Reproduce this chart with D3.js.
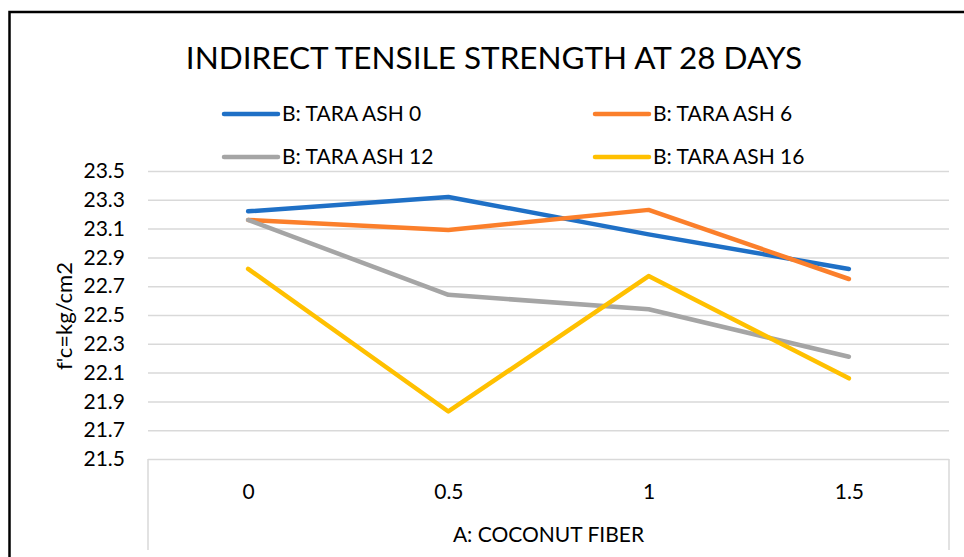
<!DOCTYPE html>
<html>
<head>
<meta charset="utf-8">
<script src="https://cdn.jsdelivr.net/npm/d3@7"></script>
<style>
    body { margin: 0; background: #fff; }
    text { font-family: Lato, "Open Sans", sans-serif; fill: #000; }
</style>
</head>
<body>
<div id="plot"></div>
<script>
let categories = ["0", "0.5", "1", "1.5"];
let seriesNames = ["B: TARA ASH 0", "B: TARA ASH 6", "B: TARA ASH 12", "B: TARA ASH 16"];
let ash0 = [23.22, 23.32, 23.06, 22.82];
let ash6 = [23.16, 23.09, 23.23, 22.75];
let ash12 = [23.16, 22.64, 22.54, 22.21];
let ash16 = [22.82, 21.83, 22.77, 22.06];
let yTicks = [21.5, 21.7, 21.9, 22.1, 22.3, 22.5, 22.7, 22.9, 23.1, 23.3, 23.5];

let colors = ["#1f70c6", "#fb7f2b", "#a5a5a5", "#ffc000"];

let width = 964;
let height = 557;
let plotLeft = 148;
let plotRight = 949;
let plotTop = 171;
let plotBottom = 459;
let labelSize = "21px";

let svg = d3.select("#plot")
    .append("svg")
    .attr("width", width)
    .attr("height", height);

svg.append("rect")
    .attr("width", width)
    .attr("height", height)
    .style("fill", "#fff");

// outer frame, only the top and left edges show in the picture
svg.append("path")
    .attr("d", "M9.5," + height + "V12H" + width)
    .style("fill", "none")
    .style("stroke", "#000")
    .style("stroke-width", 2.5);

svg.append("text")
    .attr("x", 494)
    .attr("y", 69)
    .style("text-anchor", "middle")
    .style("font-size", "31.5px")
    .text("INDIRECT TENSILE STRENGTH AT 28 DAYS");

let xScale = d3.scalePoint()
    .domain(categories)
    .range([plotLeft, plotRight])
    .padding(0.5);

let yScale = d3.scaleLinear()
    .domain([21.5, 23.5])
    .range([plotBottom, plotTop]);

let yAxis = d3.axisLeft(yScale)
    .tickValues(yTicks)
    .tickSize(-(plotRight - plotLeft))
    .tickPadding(23)
    .tickFormat(d3.format(".1f"));

let yG = svg.append("g")
    .attr("transform", "translate(" + plotLeft + ",0)")
    .call(yAxis);
yG.select(".domain").remove();
yG.selectAll("line")
    .style("stroke", "#d9d9d9")
    .style("stroke-width", 1.5);
yG.selectAll("text")
    .style("font-size", labelSize)
    .style("font-family", "Lato, sans-serif");

// box under the plot that holds the category labels and the axis title
[plotLeft, plotRight].forEach(function (x) {
    svg.append("line")
        .attr("x1", x)
        .attr("x2", x)
        .attr("y1", plotBottom)
        .attr("y2", 550)
        .style("stroke", "#d9d9d9")
        .style("stroke-width", 1.5);
});

let xAxis = d3.axisBottom(xScale)
    .tickSize(0)
    .tickPadding(25);

let xG = svg.append("g")
    .attr("transform", "translate(0," + plotBottom + ")")
    .call(xAxis);
xG.select(".domain").remove();
xG.selectAll("text")
    .style("font-size", labelSize)
    .style("font-family", "Lato, sans-serif");

svg.append("text")
    .attr("x", (plotLeft + plotRight) / 2)
    .attr("y", 542)
    .style("text-anchor", "middle")
    .style("font-size", labelSize)
    .text("A: COCONUT FIBER");

svg.append("text")
    .attr("transform", "translate(72,316) rotate(-90)")
    .style("text-anchor", "middle")
    .style("font-size", "22px")
    .text("f'c=kg/cm2");

let series = [ash0, ash6, ash12, ash16];

let line = d3.line()
    .x(function (d, i) { return xScale(categories[i]); })
    .y(function (d) { return yScale(d); });

series.forEach(function (values, i) {
    svg.append("path")
        .datum(values)
        .attr("d", line)
        .style("fill", "none")
        .style("stroke", colors[i])
        .style("stroke-width", 4.5)
        .style("stroke-linecap", "round")
        .style("stroke-linejoin", "round");
});

// legend, two columns by two rows
let legendCols = [224, 595];
let legendRows = [114, 157];

seriesNames.forEach(function (name, i) {
    let x = legendCols[i % 2];
    let y = legendRows[Math.floor(i / 2)];
    svg.append("line")
        .attr("x1", x)
        .attr("x2", x + 54)
        .attr("y1", y)
        .attr("y2", y)
        .style("stroke", colors[i])
        .style("stroke-width", 4.5)
        .style("stroke-linecap", "round");
    svg.append("text")
        .attr("x", x + 58)
        .attr("y", y)
        .attr("dy", "0.35em")
        .style("font-size", labelSize)
        .text(name);
});
</script>
</body>
</html>
